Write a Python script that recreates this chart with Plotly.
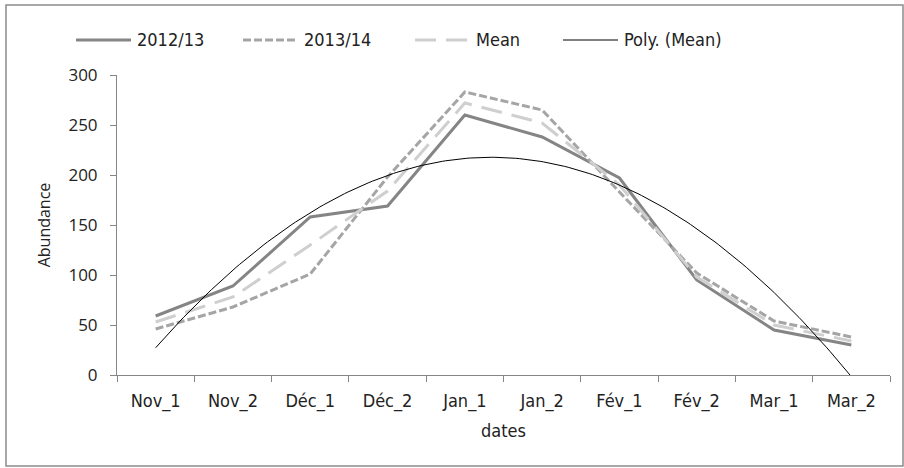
import numpy as np
import plotly.graph_objects as go

# Half-month sampling periods
dates = ["Nov_1", "Nov_2", "Déc_1", "Déc_2", "Jan_1", "Jan_2", "Fév_1", "Fév_2", "Mar_1", "Mar_2"]
season_2012_13 = [59, 89, 158, 169, 260, 238, 197, 95, 45, 30]
season_2013_14 = [46, 68, 101, 198, 283, 265, 183, 102, 54, 38]
season_mean = [53, 78, 130, 184, 272, 252, 190, 98, 50, 34]
y_ticks = [0, 50, 100, 150, 200, 250, 300]

x_idx = np.arange(len(dates))

# Second-order polynomial trend of the mean
coef = np.polyfit(x_idx, season_mean, 2)
x_fine = np.linspace(0, len(dates) - 1, 200)
y_fine = np.polyval(coef, x_fine)

narrow = "DejaVu Sans Condensed, Liberation Sans Narrow, sans-serif"
wide = "Open Sans, DejaVu Sans, sans-serif"
axis_grey = "#868686"
text_col = "#222222"

series = [
    dict(name="2012/13", y=season_2012_13, color="#858585", dash="solid", width=3),
    dict(name="2013/14", y=season_2013_14, color="#a5a5a5", dash="8px,3px", width=3),
    dict(name="Mean", y=season_mean, color="#cfcfcf", dash="21px,10px", width=3),
]

fig = go.Figure()
for s in series:
    fig.add_trace(go.Scatter(x=x_idx, y=s["y"], mode="lines", name=s["name"],
                             line=dict(color=s["color"], width=s["width"], dash=s["dash"])))
fig.add_trace(go.Scatter(x=x_fine, y=y_fine, mode="lines", name="Poly. (Mean)",
                         line=dict(color="#000000", width=1)))

L, R, T, B = 117, 14, 75, 93
W, H = 904, 468
pw, ph = W - L - R, H - T - B


def px_x(v):
    return (v - L) / pw


def px_y(v):
    return (T + ph - v) / ph


fig.update_layout(
    width=W, height=H,
    margin=dict(l=L, r=R, t=T, b=B, pad=0),
    paper_bgcolor="white", plot_bgcolor="white",
    showlegend=False,
    xaxis=dict(
        range=[-0.5, len(dates) - 0.5],
        tickmode="array", tickvals=list(x_idx), ticktext=dates,
        ticks="", showgrid=False, zeroline=False,
        showline=True, linecolor=axis_grey, linewidth=1,
        tickfont=dict(family=narrow, size=18, color=text_col),
        ticklabelstandoff=9,
        minor=dict(tickmode="array", tickvals=list(np.arange(-0.5, len(dates), 1.0)),
                   ticks="outside", ticklen=6, tickcolor=axis_grey, tickwidth=1, showgrid=False),
        title=dict(text="dates", font=dict(family=narrow, size=18, color=text_col), standoff=13),
    ),
    yaxis=dict(
        range=[0, 300], tickmode="array", tickvals=y_ticks,
        ticks="outside", ticklen=6, tickcolor=axis_grey,
        showgrid=False, zeroline=False,
        showline=True, linecolor=axis_grey, linewidth=1,
        tickfont=dict(family=wide, size=17, color=text_col),
        ticklabelstandoff=9,
        title=dict(text="Abundance", font=dict(family=wide, size=16, color=text_col), standoff=13),
    ),
)

# Legend row: sample line followed by its label
legend_y = 40
legend_items = [
    (series[0]["name"], series[0]["color"], series[0]["dash"], 3, 76, 131),
    (series[1]["name"], series[1]["color"], series[1]["dash"], 3, 243, 298),
    (series[2]["name"], series[2]["color"], series[2]["dash"], 3, 415, 470),
    ("Poly. (Mean)", "#000000", "solid", 1, 563, 618),
]
for name, color, dash, width, x0, x1 in legend_items:
    fig.add_shape(type="line", xref="paper", yref="paper",
                  x0=px_x(x0), x1=px_x(x1), y0=px_y(legend_y), y1=px_y(legend_y),
                  line=dict(color=color, width=width, dash=dash))
    fig.add_annotation(xref="paper", yref="paper", x=px_x(x1 + 4), y=px_y(legend_y),
                       xanchor="left", yanchor="middle", showarrow=False, text=name,
                       font=dict(family=narrow, size=18, color=text_col))

# Chart frame
fig.add_shape(type="rect", xref="paper", yref="paper",
              x0=px_x(6), x1=px_x(903), y0=px_y(466), y1=px_y(5),
              line=dict(color="#8c8c8c", width=1.5), fillcolor="rgba(0,0,0,0)", layer="below")

fig.write_html("out.html")
